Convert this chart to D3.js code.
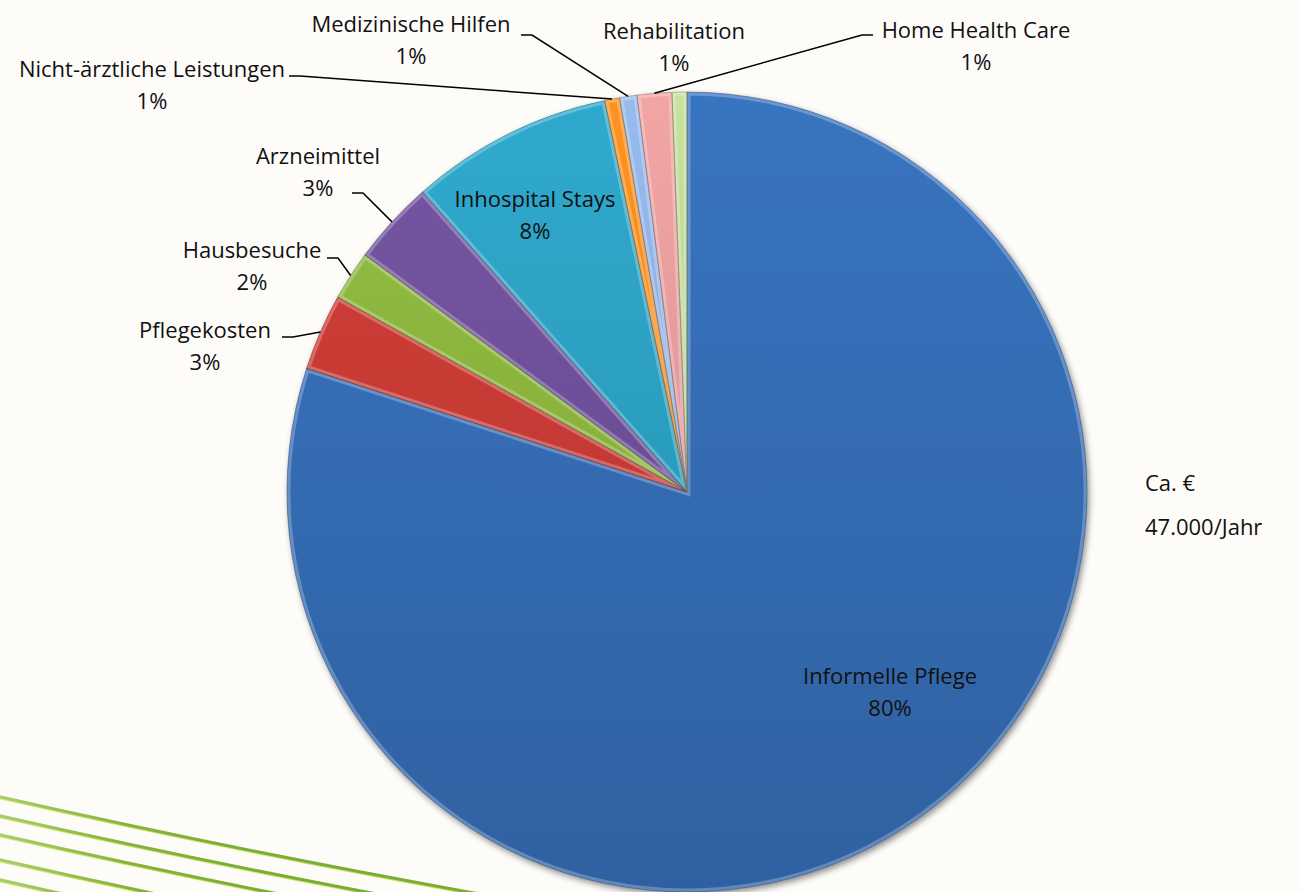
<!doctype html>
<html>
<head>
<meta charset="utf-8">
<title>Kosten pro Jahr</title>
<script src="https://cdn.jsdelivr.net/npm/d3@7"></script>
<style>
  body { margin: 0; background: #fefcf9; }
  svg { display: block; }
  text { font-family: "Open Sans", "Noto Sans", sans-serif; font-size: 22px; fill: #111; }
</style>
</head>
<body>
<script>
// data (share of yearly cost in %)
const categories = ["Informelle Pflege", "Pflegekosten", "Hausbesuche", "Arzneimittel", "Inhospital Stays",
  "Nicht-ärztliche Leistungen", "Medizinische Hilfen", "Home Health Care", "Rehabilitation"];
const shares = [80.0, 3.1, 2.0, 3.4, 8.2, 0.6, 0.7, 1.4, 0.6];
const colors = ["#346cb3", "#c63a34", "#8ab23d", "#6d4f98", "#2c9ec0", "#f0891e", "#8eaede", "#e29a9a", "#b9d292"];
const totalNote = ["Ca. €", "47.000/Jahr"];

const width = 1301, height = 892;
const cx = 687, cy = 492, r = 400;

// where the labels sit (centre of first line) and where the leader starts
const labelPos = {
  "Informelle Pflege": {x: 890, y: 676},
  "Pflegekosten": {x: 205, y: 330, lx: 282, ly: 337, dir: 1},
  "Hausbesuche": {x: 252, y: 250, lx: 327, ly: 258, dir: 1},
  "Arzneimittel": {x: 318, y: 156, lx: 352, ly: 193, dir: 1},
  "Inhospital Stays": {x: 535, y: 199},
  "Nicht-ärztliche Leistungen": {x: 152, y: 69, lx: 289, ly: 76, dir: 1},
  "Medizinische Hilfen": {x: 411, y: 24, lx: 521, ly: 35, dir: 1},
  "Home Health Care": {x: 976, y: 30, lx: 873, ly: 35, dir: -1},
  "Rehabilitation": {x: 674, y: 31}
};

const data = categories.map((name, i) => ({name, value: shares[i], color: colors[i]}));
const total = d3.sum(shares);

const svg = d3.select("body").append("svg")
    .attr("width", width)
    .attr("height", height);

svg.append("rect").attr("width", width).attr("height", height).attr("fill", "#fefcf9");

const defs = svg.append("defs");

const shadow = defs.append("filter").attr("id", "shadow")
    .attr("x", "-10%").attr("y", "-10%").attr("width", "120%").attr("height", "120%");
shadow.append("feDropShadow")
    .attr("dx", 2).attr("dy", 3).attr("stdDeviation", 3)
    .attr("flood-color", "#000").attr("flood-opacity", 0.45);

const swooshGrad = defs.append("linearGradient").attr("id", "swoosh")
    .attr("gradientUnits", "userSpaceOnUse")
    .attr("x1", 0).attr("y1", 0).attr("x2", 250).attr("y2", 0);
swooshGrad.append("stop").attr("offset", 0).attr("stop-color", "#a9cc6c");
swooshGrad.append("stop").attr("offset", 0.5).attr("stop-color", "#86b33e");
swooshGrad.append("stop").attr("offset", 1).attr("stop-color", "#79ad35");

// decorative green lines, bottom left
const swoosh = svg.append("g").attr("fill", "none");
[0, 19, 38, 63, 83, 104].forEach(k => {
  const p = `M-5,${796 + k} Q219,${847 + k} 467,${892 + k} L760,${945 + k}`;
  swoosh.append("path").attr("d", p)
      .attr("stroke", "url(#swoosh)").attr("stroke-width", 3.6);
  swoosh.append("path").attr("d", p).attr("transform", "translate(0,1.8)")
      .attr("stroke", "#d9ec6e").attr("stroke-opacity", 0.7).attr("stroke-width", 1.2);
});

const pie = d3.pie().sort(null).value(d => d.value);
const arcs = pie(data);
const arc = d3.arc().innerRadius(0).outerRadius(r);
const rim = d3.arc().innerRadius(r).outerRadius(r);

const g = svg.append("g").attr("transform", `translate(${cx},${cy})`);

arcs.forEach((d, i) => {
  const base = d3.color(d.data.color);
  const grad = defs.append("linearGradient").attr("id", "grad" + i)
      .attr("gradientUnits", "userSpaceOnUse")
      .attr("x1", 0).attr("y1", -r).attr("x2", 0).attr("y2", r);
  grad.append("stop").attr("offset", 0).attr("stop-color", base.brighter(0.2));
  grad.append("stop").attr("offset", 1).attr("stop-color", base.darker(0.3));
  defs.append("clipPath").attr("id", "clip" + i)
    .append("path").attr("d", arc(d));
});

const slices = g.append("g").attr("filter", "url(#shadow)");

slices.selectAll("path.slice")
  .data(arcs)
  .join("path")
    .attr("class", "slice")
    .attr("d", arc)
    .attr("fill", (d, i) => `url(#grad${i})`);

// bevel: light inner edge, thin dark seam
g.append("g").selectAll("path")
  .data(arcs)
  .join("path")
    .attr("d", arc)
    .attr("fill", "none")
    .attr("clip-path", (d, i) => `url(#clip${i})`)
    .attr("stroke", "#fff")
    .attr("stroke-opacity", 0.25)
    .attr("stroke-width", 7);

g.append("g").selectAll("path")
  .data(arcs)
  .join("path")
    .attr("d", arc)
    .attr("fill", "none")
    .attr("stroke", d => d3.color(d.data.color).darker(1.2))
    .attr("stroke-opacity", 0.6)
    .attr("stroke-width", 0.8);

// leader lines
const leaders = svg.append("g").attr("fill", "none").attr("stroke", "#000").attr("stroke-width", 1.5);
arcs.forEach(d => {
  const p = labelPos[d.data.name];
  if (p.lx === undefined) return;
  const [ex, ey] = rim.centroid(d);
  leaders.append("polyline")
      .attr("points", [[p.lx, p.ly], [p.lx + p.dir * 11, p.ly], [cx + ex, cy + ey]].join(" "));
});

// labels
const fmt = v => Math.round(v / total * 100) + "%";
const labels = svg.append("g").attr("text-anchor", "middle");
arcs.forEach(d => {
  const p = labelPos[d.data.name];
  const t = labels.append("text");
  t.append("tspan").attr("x", p.x).attr("y", p.y).attr("dy", "0.35em").text(d.data.name);
  t.append("tspan").attr("x", p.x).attr("y", p.y + 32).attr("dy", "0.35em").text(fmt(d.data.value));
});

const note = svg.append("text");
totalNote.forEach((line, i) => {
  note.append("tspan").attr("x", 1145).attr("y", 483 + i * 44).attr("dy", "0.35em").text(line);
});
</script>
</body>
</html>
